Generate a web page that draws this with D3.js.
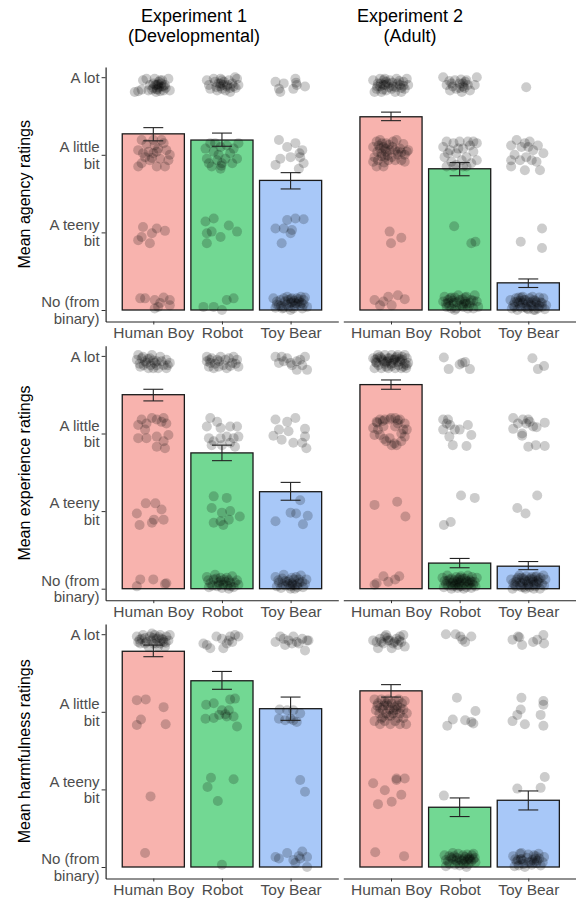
<!DOCTYPE html>
<html><head><meta charset="utf-8">
<script src="https://cdn.jsdelivr.net/npm/d3@7"></script>
<style>body{margin:0;background:#fff}svg{display:block;font-family:"Liberation Sans",Arial,Helvetica,sans-serif}</style>
</head><body><svg id="chart" width="576" height="899"></svg>
<script>
// ---------- data ----------
const categories = ["Human Boy", "Robot", "Toy Bear"];
const experimentTitles = [["Experiment 1", "(Developmental)"], ["Experiment 2", "(Adult)"]];
const measureTitles = ["Mean agency ratings", "Mean experience ratings", "Mean harmfulness ratings"];
const tickValues = [0, 1, 2, 3];
const tickLabels = [["No (from", "binary)"], ["A teeny", "bit"], ["A little", "bit"], ["A lot"]];

// means and error-bar limits, per measure & experiment, in category order
const agency1Mean = [2.27, 2.19, 1.67], agency1Lo = [2.18, 2.11, 1.56], agency1Hi = [2.35, 2.28, 1.77];
const agency2Mean = [2.49, 1.82, 0.35], agency2Lo = [2.44, 1.73, 0.29], agency2Hi = [2.55, 1.90, 0.40];
const experience1Mean = [2.50, 1.75, 1.25], experience1Lo = [2.42, 1.65, 1.14], experience1Hi = [2.57, 1.85, 1.37];
const experience2Mean = [2.63, 0.33, 0.29], experience2Lo = [2.57, 0.27, 0.245], experience2Hi = [2.69, 0.39, 0.35];
const harm1Mean = [2.78, 2.40, 2.04], harm1Lo = [2.71, 2.29, 1.89], harm1Hi = [2.86, 2.52, 2.19];
const harm2Mean = [2.27, 0.77, 0.86], harm2Lo = [2.19, 0.65, 0.735], harm2Hi = [2.35, 0.89, 0.98];

// individual ratings: [horizontal jitter (fraction of category step), jittered rating]
const agency1Boy = [[-.22,2.82],[-.15,2.96],[-.07,2.83],[0,2.92],[.05,2.85],[.10,2.96],[.17,2.90],[.22,2.98],[.24,2.83],[-.10,2.98],[.02,2.98],[.15,2.83],[-.02,2.84],[.07,2.91],[.12,2.88],[.04,2.81],[-.27,2.81],[-.17,2.84],[.08,2.87],[.03,2.90],[.10,2.82],
 [.05,2.90],[.08,2.94],[.12,2.92],[.15,2.88],[.18,2.86],[0,2.86],[.06,2.84],[.13,2.96],[-.05,2.90],
 [-.22,2.06],[-.22,1.85],[-.17,2.19],[-.15,2.02],[-.10,2.14],[-.05,1.93],[0,2.19],[.05,2.04],[.10,1.95],[.15,2.15],[.19,2.06],[.24,2.00],[.17,1.85],[.05,1.85],[-.17,1.89],[-.07,2.04],[.12,2.19],[0,2.02],[.22,1.93],[.07,2.08],[-.12,1.97],[.02,2.12],[-.02,1.96],
 [-.15,1.07],[-.22,0.90],[-.05,0.86],[-.02,0.99],[.05,1.05],[.17,1.02],[-.17,0.94],
 [-.19,0.15],[-.12,0.15],[.02,0.13],[.10,0.09],[.02,0.02],[.24,0.13],[.24,0.06],[.15,0.16],[.07,0.04]];
const agency1Robot = [[-.22,2.96],[-.17,2.85],[-.10,2.94],[-.02,2.98],[.02,2.90],[.10,2.96],[.17,2.88],[.22,2.98],[.24,2.90],[-.19,2.90],[-.07,2.83],[.05,2.83],[.12,2.81],[-.12,2.98],[-.05,2.92],[.19,3.0],[0,2.85],[.07,2.88],[-.02,2.92],
 [-.03,2.88],[.03,2.94],[.08,2.90],[.12,2.86],[0,2.96],[.15,2.92],[-.08,2.87],[.20,2.86],
 [-.24,2.08],[-.22,1.95],[-.17,2.15],[-.12,2.04],[-.07,1.93],[-.02,2.10],[0,1.89],[.07,2.12],[.12,2.02],[.17,2.08],[.22,1.95],[.24,2.15],[-.15,1.85],[-.02,1.82],[.05,1.95],[-.19,1.89],[.15,1.89],[-.10,2.15],[-.05,2.0],[-.01,1.86],
 [-.24,1.14],[-.12,1.18],[-.22,0.99],[-.15,1.01],[-.02,0.94],[.10,1.09],[.22,1.01],[-.22,0.86],
 [-.27,0.04],[-.12,0.04],[.07,0.13],[.17,0.15],[0,0.0]];
const agency1Bear = [[-.22,2.94],[-.17,2.85],[-.10,2.92],[.07,2.98],[.09,2.90],[.21,2.88],[.04,2.85],[-.15,2.81],[.08,2.93],
 [-.17,2.19],[-.05,2.10],[.07,2.15],[.17,2.06],[-.15,1.95],[0,1.97],[.14,1.97],[.19,1.89],[-.22,1.87],[.12,1.82],[.13,2.02],
 [-.22,1.05],[-.10,1.05],[-.05,1.16],[.07,1.18],[.19,1.17],[-.13,0.86],[0,0.99],[.02,1.03],
 [-.25,0.15],[-.17,0.06],[-.12,0.02],[-.05,0.17],[0,0.09],[.04,0.02],[.09,0.15],[.14,0.06],[.19,0.13],[.24,0.04],[-.20,0.11],[-.08,0.11],[-.03,0.04],[.02,0.15],[.12,0.11],[.17,0.02],[.21,0.16],[-.10,0.15],[.07,0.09],[-.15,0.13],[0,0.0],[.05,0.12],[-.22,0.03],[.15,0.17],
 [-.20,0.07],[-.14,0.05],[-.06,0.07],[0,0.14],[.06,0.05],[.10,0.08],[.16,0.09],[-.10,0.03],[.02,0.10],[-.04,0.13],[.12,0.14],[.19,0.07]];
const agency2Boy = [[-.26,2.96],[-.21,2.85],[-.16,2.98],[-.11,2.90],[-.07,2.83],[-.02,2.96],[.03,2.88],[.08,2.98],[.13,2.90],[.18,2.94],[.23,2.98],[.20,2.85],[-.24,2.81],[-.14,2.81],[-.04,2.92],[.06,2.81],[.15,2.81],[-.19,2.92],[-.09,2.98],[.01,2.85],[.10,2.92],[.25,2.90],[-.16,2.88],[-.11,2.96],[-.07,2.94],
 [-.20,2.88],[-.15,2.92],[-.08,2.90],[-.03,2.87],[.02,2.93],[.07,2.87],[.12,2.95],[.18,2.89],[-.12,2.84],[.15,2.86],
 [-.26,2.10],[-.21,2.17],[-.16,2.19],[-.11,2.10],[-.07,2.15],[-.02,2.06],[.03,2.17],[.08,2.19],[.13,2.08],[.18,2.14],[.23,2.04],[-.24,1.97],[-.19,1.93],[-.14,2.02],[-.09,1.97],[-.04,1.93],[.01,1.97],[.06,1.93],[.10,2.0],[.15,1.93],[.20,1.91],[-.21,1.85],[-.11,1.85],[-.26,1.91],[.25,2.06],[-.16,2.08],[-.07,2.04],[.06,2.06],
 [-.18,2.12],[-.13,2.15],[-.08,2.08],[-.03,2.13],[.02,2.10],[-.20,2.04],[-.14,1.98],[-.05,1.99],[.10,2.04],[.15,2.03],[.20,2.0],[-.10,1.90],
 [-.02,1.01],[.15,0.93],[0,0.86],
 [-.24,0.13],[-.16,0.06],[-.04,0.17],[.01,0.06],[.10,0.19],[.20,0.14],[-.11,0.11]];
const agency2Robot = [[-.24,3.0],[-.19,2.90],[-.14,2.83],[-.07,2.96],[0,2.92],[.05,2.88],[.10,2.96],[.15,2.83],[.22,2.90],[.25,3.0],[-.12,2.92],[.03,2.81],[-.05,2.85],[.08,2.94],[.05,2.92],
 [-.15,2.95],[-.10,2.88],[0,2.86],[.02,2.97],[.07,2.86],[.12,2.90],
 [-.24,2.10],[-.22,1.97],[-.19,2.17],[-.14,2.06],[-.09,2.15],[-.05,2.02],[0,2.17],[.05,2.08],[.10,1.97],[.15,2.12],[.20,2.04],[.25,2.15],[-.19,1.85],[-.12,1.91],[-.05,1.87],[.03,1.93],[.10,1.85],[.17,1.89],[.25,1.93],[-.17,2.02],[-.02,2.08],[.05,1.85],[.12,2.17],[-.09,1.85],[.20,2.17],
 [-.08,1.08],[.17,0.86],[.23,0.88],
 [-.24,0.11],[-.19,0.04],[-.14,0.15],[-.09,0.09],[-.05,0.02],[0,0.13],[.05,0.04],[.10,0.17],[.15,0.09],[.20,0.02],[.25,0.11],[-.22,0.17],[-.12,0.02],[-.02,0.19],[.03,0.06],[.08,0.11],[.12,0.02],[.22,0.19],[-.17,0.09],[-.07,0.16],[.17,0.13],[.27,0.04],[-.10,0.12],[.06,0.08],
 [-.20,0.08],[-.15,0.05],[-.04,0.10],[0,0.06],[.04,0.14],[.10,0.08],[.14,0.05],[.20,0.12],[-.12,0.16],[-.07,0.0],[.08,0.16],[-.17,0.13]];
const agency2Bear = [[-.03,2.87],
 [-.25,2.12],[-.17,2.19],[-.10,2.10],[-.05,2.15],[.02,2.17],[.07,2.06],[.14,2.12],[.22,2.02],[-.20,2.0],[-.12,1.93],[-.03,1.97],[.05,1.93],[.12,1.91],[.17,1.80],[-.25,1.85],[-.05,1.80],[-.25,1.93],[0,2.10],
 [-.11,0.88],[.20,1.05],[.20,0.80],
 [-.26,0.13],[-.22,0.06],[-.18,0.15],[-.14,0.09],[-.10,0.03],[-.06,0.13],[-.02,0.07],[.02,0.15],[.06,0.05],[.10,0.12],[.14,0.02],[.18,0.10],[.22,0.15],[.26,0.06],[-.24,0.02],[-.16,0.0],[-.08,0.17],[0,0.01],[.08,0.0],[.16,0.16],[.24,0.01],[-.20,0.10],[-.12,0.12],[-.04,0.04],[.04,0.10],[.12,0.07],[.20,0.04],[-.10,0.16],
 [-.20,0.04],[-.16,0.11],[-.12,0.05],[-.08,0.09],[-.04,0.13],[0,0.10],[.04,0.06],[.08,0.13],[.12,0.10],[.16,0.05],[.20,0.09],[-.02,0.02],[.06,0.17],[-.14,0.16],[.10,0.0]];
const experience1Boy = [[-.24,2.95],[-.19,2.86],[-.15,2.99],[-.10,2.91],[-.05,2.97],[0,2.84],[.05,2.93],[.10,2.99],[.15,2.88],[.19,2.95],[.24,2.91],[-.22,3.01],[-.07,2.84],[.07,2.84],[.19,2.84],[-.12,2.93],[-.02,3.01],[-.17,2.97],[.02,2.91],
 [-.20,2.90],[-.14,2.88],[-.08,2.96],[-.04,2.88],[0,2.94],[.05,2.88],[.12,2.93],[.21,2.88],
 [-.22,2.11],[-.17,2.18],[-.10,2.13],[-.02,2.20],[.05,2.18],[.15,2.20],[.19,2.13],[-.12,2.05],[-.22,1.94],[-.10,1.94],[.05,1.96],[.22,1.98],[.15,1.90],[.05,1.83],[.17,1.81],[.12,2.15],
 [-.11,1.10],[.03,1.10],[-.24,0.97],[.12,1.02],[.15,0.89],[.01,0.89],[-.02,0.85],[-.20,0.82],
 [-.19,0.12],[0,0.12],[.19,0.07],[-.24,0.03],[.17,0.06]];
const experience1Robot = [[-.22,2.99],[-.17,2.91],[-.12,2.84],[-.07,2.95],[-.02,2.99],[.02,2.88],[.10,2.97],[.15,2.91],[.22,2.95],[.24,2.86],[-.19,2.86],[.07,2.84],[.17,2.99],[-.05,2.86],[-.22,2.93],[-.15,2.97],
 [-.18,2.95],[-.10,2.90],[-.04,2.93],[.05,2.95],[.12,2.87],[.20,2.90],
 [-.17,2.20],[-.07,2.15],[-.22,2.09],[-.02,2.07],[.12,2.09],[.22,2.09],[-.19,1.94],[-.12,1.90],[-.02,1.94],[.07,1.96],[.17,1.94],[.24,1.96],[-.15,1.85],[0,1.85],[.12,1.88],[.19,1.83],
 [-.12,1.19],[.07,1.17],[-.15,1.04],[0,0.98],[.12,1.0],[.26,0.93],[-.12,0.85],[-.02,0.87],[.02,0.82],[.10,0.89],
 [-.22,0.15],[-.17,0.07],[-.12,0.12],[-.07,0.03],[-.02,0.10],[.02,0.05],[.07,0.14],[.12,0.08],[.17,0.02],[.22,0.11],[-.19,0.02],[-.10,0.18],[-.05,0.08],[0,0.01],[.05,0.09],[.10,0.0],[.15,0.16],[.24,0.05],[-.02,0.14],[.08,0.04],
 [-.20,0.11],[-.14,0.04],[-.04,0.05],[.03,0.12],[.10,0.11],[.13,0.03],[.19,0.08],[-.08,0.13]];
const experience1Bear = [[-.22,2.99],[-.17,2.91],[-.10,2.93],[-.05,2.97],[0,2.91],[.09,2.93],[.14,2.95],[.21,2.99],[.24,2.82],[.09,2.82],[.02,2.88],[.17,2.88],[-.13,2.99],
 [-.22,2.18],[-.05,2.15],[.07,2.20],[-.17,2.05],[-.03,2.03],[.21,2.06],[-.25,1.97],[-.13,1.92],[.04,1.88],[.17,1.88],[.23,1.81],[.21,1.96],
 [.14,1.14],[0,0.98],[.08,0.97],[.25,0.94],[-.22,0.87],[.18,0.83],
 [-.22,0.15],[-.17,0.08],[-.12,0.13],[-.07,0.04],[-.02,0.11],[.03,0.05],[.08,0.15],[.13,0.08],[.18,0.02],[.23,0.12],[-.20,0.03],[-.10,0.18],[-.05,0.09],[0,0.0],[.05,0.12],[.10,0.02],[.15,0.17],[.21,0.06],[-.14,0.01],[.06,0.0],[.02,0.07],
 [-.18,0.11],[-.12,0.06],[-.08,0.10],[-.03,0.06],[.02,0.14],[.07,0.04],[.12,0.12],[.17,0.09],[0,0.03],[.10,0.06]];
const experience2Boy = [[-.26,2.97],[-.21,2.91],[-.16,2.99],[-.11,2.93],[-.07,2.86],[-.02,2.97],[.03,2.91],[.08,2.99],[.13,2.93],[.18,2.86],[.23,2.97],[.25,2.91],[-.24,2.84],[-.14,2.84],[-.04,2.84],[.06,2.84],[.15,2.84],[.22,2.84],[-.19,3.01],[-.09,3.01],[.01,3.01],[.10,3.01],[.20,3.01],[-.12,2.95],[0,2.90],[.10,2.92],[-.22,2.92],[.16,2.95],[-.05,2.93],[.05,2.95],
 [-.23,2.95],[-.18,2.88],[-.14,2.97],[-.09,2.90],[-.04,2.97],[.01,2.87],[.06,2.97],[.11,2.88],[.16,2.99],[.20,2.90],[-.20,2.97],[-.07,2.92],[.03,2.95],[.13,2.96],[.23,2.88],
 [-.26,2.07],[-.21,2.15],[-.16,2.18],[-.09,2.18],[-.02,2.18],[.06,2.20],[.13,2.18],[.20,2.13],[.23,2.05],[.20,1.96],[.15,1.90],[.08,1.85],[.01,1.85],[-.07,1.90],[-.16,1.98],[-.24,1.98],[-.19,2.05],[-.11,2.09],[.06,2.09],[.15,2.00],[-.02,1.94],[.10,2.13],
 [-.20,2.14],[-.12,2.16],[0,2.20],[.10,2.17],[.18,2.05],[.05,1.87],[-.10,1.93],
 [-.24,1.08],[.09,1.12],[.21,0.93],
 [-.24,0.05],[-.11,0.16],[-.04,0.09],[.06,0.12],[.12,0.16],[-.21,0.07]];
const experience2Robot = [[-.23,2.98],[-.16,2.83],[0,2.89],[.08,2.92],[.15,2.83],[.04,2.91],
 [-.24,2.18],[-.17,2.18],[-.14,2.11],[-.07,2.05],[0,2.05],[.12,2.11],[.17,1.98],[-.24,2.05],[-.15,1.96],[-.10,1.85],[.10,1.84],[-.19,2.13],
 [.02,1.20],[.22,1.17],[-.23,0.82],[-.13,0.86],
 [-.25,0.14],[-.20,0.06],[-.15,0.12],[-.10,0.03],[-.05,0.15],[0,0.08],[.05,0.13],[.10,0.02],[.15,0.11],[.20,0.05],[.25,0.14],[-.23,0.02],[-.18,0.17],[-.13,0.07],[-.08,0.11],[-.03,0.01],[.02,0.16],[.07,0.07],[.12,0.17],[.17,0.01],[.22,0.09],[-.12,0.0],[0,0.03],[.12,0.09],[-.06,0.06],[.06,0.0],[-.18,0.10],[.18,0.15],[.02,0.11],[-.02,0.05],
 [-.22,0.10],[-.17,0.04],[-.12,0.13],[-.07,0.04],[-.02,0.12],[.03,0.03],[.08,0.13],[.13,0.05],[.18,0.09],[.23,0.03],[-.10,0.08],[0,0.14],[.10,0.10],[-.04,0.09],[.15,0.07]];
const experience2Bear = [[.06,2.97],[.14,2.83],[.23,2.87],
 [-.22,2.20],[-.15,2.13],[-.08,2.18],[0,2.18],[.07,2.09],[.12,2.08],[.24,2.14],[-.22,2.06],[-.09,2.0],[-.03,2.13],[0,1.83],[.11,1.85],[.24,1.84],[-.09,1.97],[.02,2.15],
 [.13,1.20],[-.16,1.04],[-.04,0.97],
 [-.25,0.12],[-.20,0.05],[-.15,0.14],[-.10,0.02],[-.05,0.11],[0,0.06],[.05,0.15],[.10,0.03],[.15,0.12],[.20,0.06],[.25,0.12],[-.23,0.0],[-.18,0.09],[-.13,0.17],[-.08,0.07],[-.03,0.16],[.02,0.02],[.07,0.09],[.12,0.16],[.17,0.0],[.22,0.17],[-.12,0.08],[0,0.11],[.12,0.06],[-.06,0.02],[.06,0.12],[-.18,0.03],[.08,0.0],
 [-.22,0.07],[-.17,0.12],[-.12,0.04],[-.07,0.13],[-.02,0.09],[.03,0.13],[.08,0.05],[.13,0.10],[.18,0.14],[.23,0.04],[-.10,0.14],[0,0.04],[.10,0.15],[-.04,0.0],[.15,0.08]];
const harm1Boy = [[-.24,2.97],[-.19,2.88],[-.15,2.99],[-.10,2.90],[-.05,2.97],[0,2.88],[.05,2.94],[.10,2.99],[.15,2.90],[.19,2.97],[.24,2.99],[-.22,2.90],[-.07,2.84],[.07,2.84],[.17,2.84],[-.02,3.01],[-.12,2.88],[.12,2.94],[.22,2.92],[.02,2.99],[-.17,2.94],[.10,2.88],
 [-.20,2.93],[-.12,2.95],[-.03,2.92],[.04,2.88],[.08,2.96],[.14,2.93],[.18,2.89],[0,2.95],
 [-.24,2.15],[-.11,2.16],[.15,2.06],[-.18,1.90],[-.24,1.83],[.18,1.84],
 [-.04,0.91],
 [-.12,0.18]];
const harm1Robot = [[-.22,2.86],[-.17,2.82],[-.08,2.97],[0,2.94],[.07,2.88],[.12,2.97],[.19,2.99],[.24,2.97],[.02,2.82],[.15,2.90],[-.27,2.88],[.10,2.92],
 [-.23,2.09],[-.12,2.11],[0,2.02],[.12,2.16],[.19,2.17],[-.24,1.91],[-.12,1.92],[-.04,1.96],[.07,1.94],[.17,1.94],[.22,1.81],[.10,2.02],[.05,1.97],
 [-.16,1.15],[.17,1.13],[-.21,1.03],[-.06,0.85],
 [0,0.03]];
const harm1Bear = [[-.22,2.90],[-.15,2.97],[-.08,2.86],[-.03,2.92],[.04,2.97],[.12,2.88],[.17,2.94],[.24,2.92],[.21,2.79],[-.10,2.94],[.02,2.88],[.09,2.90],[.26,2.92],
 [-.16,2.03],[-.05,2.02],[.04,2.02],[.14,1.98],[-.17,1.91],[-.08,1.89],[0,1.91],[.09,1.87],[.04,1.89],
 [.14,1.12],[.21,0.97],
 [-.22,0.13],[-.17,0.11],[-.05,0.18],[.04,0.09],[.12,0.14],[.17,0.20],[.24,0.13],[.07,0.05],[.24,0.0],[.14,0.11]];
const harm2Boy = [[-.26,2.92],[-.21,2.90],[-.16,2.94],[-.11,2.88],[-.07,2.99],[-.02,2.92],[.03,2.88],[.08,2.94],[.13,2.97],[.18,2.99],[.20,2.84],[.01,2.82],[-.19,2.82],[.10,2.86],[-.09,2.97],[.15,2.90],[-.04,2.92],
 [-.14,2.90],[-.05,2.95],[.05,2.90],[.12,2.92],
 [-.24,2.16],[-.19,2.11],[-.14,2.16],[-.09,2.13],[-.04,2.16],[.01,2.11],[.06,2.14],[.11,2.16],[.16,2.11],[.20,2.14],[-.22,2.02],[-.17,1.98],[-.12,2.03],[-.07,1.98],[-.02,2.03],[.03,1.98],[.08,2.03],[.13,1.98],[.18,2.03],[.23,1.98],[-.24,1.88],[-.16,1.84],[-.09,1.88],[-.01,1.84],[.06,1.88],[.13,1.84],[.22,1.84],[-.05,2.08],[.05,2.06],[-.12,1.93],[.10,1.92],[0,1.95],
 [-.20,2.08],[-.16,2.05],[-.10,2.08],[-.06,2.11],[-.03,1.95],[.04,2.02],[.09,2.08],[.14,2.05],[.18,1.92],[-.14,1.91],
 [-.26,1.08],[-.09,0.99],[.08,1.12],[.20,1.14],[.15,0.93],[-.19,0.81],[.01,0.84],[.08,1.14],
 [-.23,0.19],[.19,0.14]];
const harm2Robot = [[-.20,3.0],[-.06,3.0],[.01,2.97],[.08,2.90],[.17,2.97],[.04,2.93],
 [-.04,2.18],[.23,2.01],[-.10,1.90],[.08,1.89],[.17,1.87],[-.18,1.82],[.20,1.85],
 [-.23,0.92],
 [-.22,0.15],[-.17,0.07],[-.12,0.12],[-.07,0.03],[-.02,0.17],[.03,0.08],[.08,0.13],[.13,0.04],[.18,0.15],[.23,0.06],[-.20,0.01],[-.10,0.18],[-.05,0.08],[0,0.02],[.05,0.15],[.10,0.0],[.15,0.10],[.20,0.17],[-.15,0.14],[.11,0.16],[-.02,0.05],[.06,0.04],[.14,0.12],[-.08,0.14],[.22,0.12],
 [-.20,0.09],[-.15,0.04],[-.10,0.10],[-.04,0.12],[0,0.10],[.06,0.10],[.09,0.07],[.12,0.10],[.17,0.07],[.20,0.10]];
const harm2Bear = [[-.23,2.93],[-.15,2.97],[-.09,2.86],[.07,2.90],[.13,2.93],[.22,2.99],[.23,2.88],[-.13,2.96],
 [-.10,2.18],[.22,2.14],[-.11,2.03],[.22,2.09],[-.16,1.96],[.18,1.96],[-.23,1.88],[-.05,1.84],[.22,1.82],
 [.24,1.16],[-.16,1.01],[.18,1.02],
 [-.22,0.14],[-.17,0.07],[-.12,0.17],[-.07,0.04],[-.02,0.12],[.03,0.06],[.08,0.15],[.13,0.08],[.18,0.02],[.23,0.13],[-.20,0.01],[-.10,0.10],[-.05,0.0],[0,0.16],[.05,0.03],[.10,0.11],[.15,0.17],[.21,0.06],[-.14,0.02],[.06,0.09],[.11,0.14],[-.10,0.18],
 [-.19,0.10],[-.15,0.09],[-.11,0.10],[-.08,0.08],[0,0.06],[.08,0.06],[.12,0.05],[.16,0.11]];

// panel table built from the arrays above
const panels = [
  {row:0,col:0,mean:agency1Mean,lo:agency1Lo,hi:agency1Hi,pts:[agency1Boy,agency1Robot,agency1Bear]},
  {row:0,col:1,mean:agency2Mean,lo:agency2Lo,hi:agency2Hi,pts:[agency2Boy,agency2Robot,agency2Bear]},
  {row:1,col:0,mean:experience1Mean,lo:experience1Lo,hi:experience1Hi,pts:[experience1Boy,experience1Robot,experience1Bear]},
  {row:1,col:1,mean:experience2Mean,lo:experience2Lo,hi:experience2Hi,pts:[experience2Boy,experience2Robot,experience2Bear]},
  {row:2,col:0,mean:harm1Mean,lo:harm1Lo,hi:harm1Hi,pts:[harm1Boy,harm1Robot,harm1Bear]},
  {row:2,col:1,mean:harm2Mean,lo:harm2Lo,hi:harm2Hi,pts:[harm2Boy,harm2Robot,harm2Bear]}
];

// ---------- layout ----------
const svg = d3.select("#chart");
const fills = ["#F8B3AE", "#72D893", "#A8C8F8"];
const colLeft = [105.6, 343.3], panelW = 232.7;
const rowZero = [310, 588.7, 867], unitPx = 77.6;
const yMin = -0.148, yMax = 3.13;

// facet titles
experimentTitles.forEach((t, i) => {
  const tx = [194, 410][i];
  const txt = svg.append("text").attr("x", tx).attr("text-anchor", "middle")
    .attr("font-size", "18px").attr("fill", "#000");
  txt.append("tspan").attr("x", tx).attr("y", 21.5).text(t[0]);
  txt.append("tspan").attr("x", tx).attr("y", 41.8).text(t[1]);
});

panels.forEach(p => {
  const x = d3.scalePoint().domain(categories)
    .range([colLeft[p.col], colLeft[p.col] + panelW]).padding(0.695);
  const z = rowZero[p.row];
  const y = d3.scaleLinear().domain([yMin, yMax])
    .range([z - yMin * unitPx, z - yMax * unitPx]);
  const step = x.step(), bw = step * 0.905, capW = step * 0.29;
  const g = svg.append("g");

  // bars
  g.selectAll("rect").data(categories).join("rect")
    .attr("x", d => x(d) - bw / 2)
    .attr("y", (d, i) => y(p.mean[i]))
    .attr("width", bw)
    .attr("height", (d, i) => y(0) - y(p.mean[i]))
    .attr("fill", (d, i) => fills[i])
    .attr("stroke", "#1a1a1a").attr("stroke-width", 1.3);

  // jittered points
  categories.forEach((c, i) => {
    g.append("g").selectAll("circle").data(p.pts[i]).join("circle")
      .attr("cx", d => x(c) + d[0] * step)
      .attr("cy", d => y(d[1]))
      .attr("r", 5)
      .attr("fill", "#000").attr("fill-opacity", 0.2);
  });

  // error bars
  const eb = g.append("g").attr("stroke", "#222").attr("stroke-width", 1.1).attr("fill", "none");
  categories.forEach((c, i) => {
    const cx = x(c);
    eb.append("line").attr("x1", cx).attr("x2", cx).attr("y1", y(p.lo[i])).attr("y2", y(p.hi[i]));
    eb.append("line").attr("x1", cx - capW / 2).attr("x2", cx + capW / 2).attr("y1", y(p.lo[i])).attr("y2", y(p.lo[i]));
    eb.append("line").attr("x1", cx - capW / 2).attr("x2", cx + capW / 2).attr("y1", y(p.hi[i])).attr("y2", y(p.hi[i]));
  });

  // x axis
  const xa = svg.append("g").attr("transform", `translate(0,${y(yMin)})`)
    .call(d3.axisBottom(x).tickSize(3).tickSizeOuter(0).tickPadding(2.5));
  xa.select(".domain").attr("stroke", "#222").attr("stroke-width", 1.1);
  xa.selectAll(".tick line").attr("stroke", "#333");
  xa.selectAll(".tick text").attr("font-size", "15.5px").attr("fill", "#4d4d4d")
    .attr("font-family", '"Liberation Sans", Arial, sans-serif');

  // y axis (left column only)
  if (p.col === 0) {
    const ya = svg.append("g").attr("transform", `translate(${colLeft[0]},0)`)
      .call(d3.axisLeft(y).tickValues(tickValues).tickSize(4).tickSizeOuter(0).tickPadding(2));
    ya.select(".domain").attr("stroke", "#111").attr("stroke-width", 1.1);
    ya.selectAll(".tick line").attr("stroke", "#333");
    ya.selectAll(".tick text").each(function (d) {
      const t = d3.select(this);
      const lines = tickLabels[tickValues.indexOf(d)];
      t.text(null).attr("dy", null).attr("font-size", "15px").attr("fill", "#4d4d4d")
        .attr("font-family", '"Liberation Sans", Arial, sans-serif');
      const xx = t.attr("x");
      if (lines.length === 1) {
        t.append("tspan").attr("x", xx).attr("y", 5.3).text(lines[0]);
      } else {
        t.append("tspan").attr("x", xx).attr("y", -3.4).text(lines[0]);
        t.append("tspan").attr("x", xx).attr("y", 13.2).text(lines[1]);
      }
    });
    svg.append("text")
      .attr("transform", `translate(30,${(y(yMin) + y(yMax)) / 2}) rotate(-90)`)
      .attr("text-anchor", "middle").attr("font-size", "16px").attr("fill", "#000")
      .text(measureTitles[p.row]);
  }
});
</script>
</body></html>
